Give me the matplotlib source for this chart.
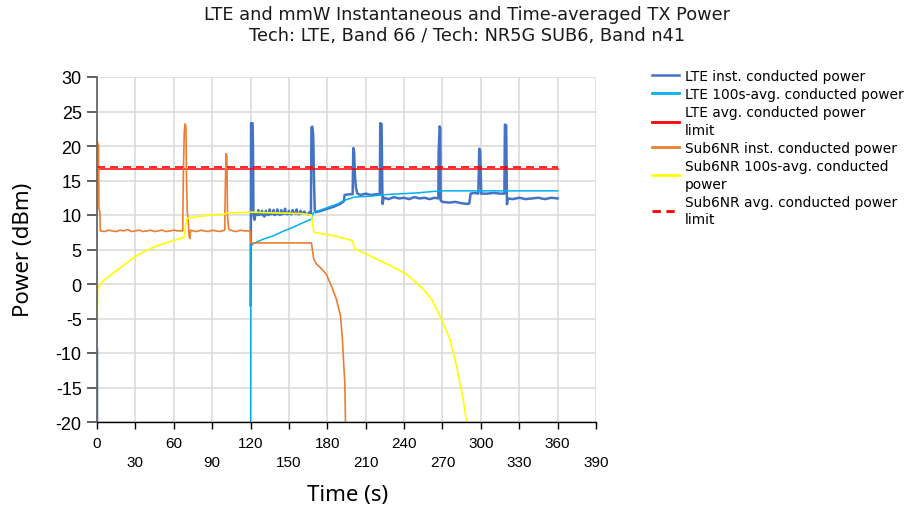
import numpy as np
import matplotlib
matplotlib.use('Agg')
import matplotlib.pyplot as plt
from matplotlib.lines import Line2D

nan = np.nan

# ── Data ──────────────────────────────────────────────────────────────────────
lte_inst_t = [0, 0.1, 0.2, 120.0, 120.2, 120.4, 121.6, 121.9, 122.3, 123.0,
              124, 125.5, 126, 126.5, 128, 129, 129.5, 131, 132, 132.5, 134, 135, 135.5,
              137, 138, 138.5, 140, 141, 141.5, 143, 144, 144.5, 146, 147, 147.5, 149,
              150, 150.5, 152, 153, 153.5, 155, 156, 156.5, 158, 159, 159.5, 161, 162,
              163, 165, 166, 167.2, 167.6, 168.3, 169.0, 169.6, 170.2, 171, 175, 180,
              185, 190, 193, 193.5, 197, 199.8, 200.3, 201.0, 201.5, 202.3, 203.5, 206,
              210, 214, 218, 221, 221.4, 222.4, 222.9, 223.2, 224, 228, 232, 236, 240,
              244, 248, 252, 256, 260, 264, 266.8, 267.0, 267.8, 268.3, 268.6, 270, 275,
              280, 285, 290, 291, 292, 295, 298, 298.8, 299.5, 300.3, 305, 310, 315,
              318.4, 318.8, 319.8, 320.4, 321, 325, 330, 335, 340, 345, 350, 355, 360]
lte_inst_p = [-9.4, -60, nan, -3.1, 5.5, 23.3, 23.3, 20.0, 10.0, 9.3,
              10.2, 10.0, 10.7, 10.0, 10.1, 10.6, 10.0, 9.8, 10.6, 10.1, 10.0, 10.8, 10.1,
              10.2, 10.7, 10.0, 10.1, 10.8, 10.2, 10.0, 10.7, 10.1, 10.2, 10.9, 10.2, 10.1,
              10.6, 10.2, 10.1, 10.7, 10.3, 10.2, 10.8, 10.2, 10.1, 10.6, 10.2, 10.3, 10.5,
              10.2, 10.1, 10.4, 10.2, 22.7, 22.8, 21.5, 15.0, 10.7, 10.4, 10.6, 10.9,
              11.2, 11.6, 12.0, 12.9, 13.0, 13.0, 19.7, 19.0, 16.0, 14.0, 13.1, 12.9,
              13.1, 12.9, 13.0, 13.0, 23.3, 23.2, 15.0, 11.6, 12.5, 12.3, 12.6, 12.4, 12.5,
              12.3, 12.6, 12.4, 12.5, 12.3, 12.5, 12.4, 19.1, 22.85, 22.5, 12.1, 11.9, 11.8,
              11.9, 11.7, 11.6, 11.7, 13.1, 13.2, 13.1, 19.6, 19.2, 13.1, 13.1, 13.2, 13.1,
              13.1, 23.1, 23.0, 11.55, 12.4, 12.3, 12.5, 12.3, 12.4, 12.5, 12.3, 12.5, 12.4]

lte_avg_t = [120, 120.3, 122, 125, 130, 138, 145, 153, 160, 167.5, 169, 171, 176, 182,
             188, 193, 198, 201, 206, 215, 222, 230, 240, 250, 256, 268, 300, 360]
lte_avg_p = [-30, 5.5, 5.8, 6.1, 6.5, 7.0, 7.6, 8.2, 8.8, 9.4, 10.3, 10.5, 10.8, 11.2,
             11.6, 12.1, 12.4, 12.6, 12.65, 12.75, 12.9, 13.0, 13.1, 13.2, 13.3, 13.5, 13.5, 13.5]

nr_inst_t = [0, 1.2, 1.5, 2.2, 2.6, 6, 9, 12, 15, 18, 21, 24, 27, 30, 33, 36, 39, 42, 45,
             48, 51, 54, 57, 60, 63, 67.0, 67.5, 68.2, 68.8, 69.5, 70.0, 70.5, 71.2, 72.0,
             72.6, 73.2, 75, 78, 81, 84, 87, 90, 93, 96, 99.8, 100.2, 100.8, 101.5, 102.0,
             102.6, 103.2, 106, 109, 112, 115, 119.8, 120.2, 167.6, 169.4, 171.5, 175,
             179.3, 183.2, 187.1, 190.3, 191.8, 192.9, 193.7, 194.2, 194.5]
nr_inst_p = [20.8, 20.0, 11.0, 10.5, 7.7, 7.6, 7.8, 7.7, 7.6, 7.8, 7.7, 7.9, 7.6, 7.7, 7.8,
             7.6, 7.7, 7.8, 7.6, 7.7, 7.8, 7.6, 7.7, 7.8, 7.7, 7.7, 16.0, 22.0, 23.2, 22.8,
             15.0, 10.5, 9.5, 7.0, 6.6, 7.8, 7.7, 7.6, 7.8, 7.7, 7.6, 7.8, 7.7, 7.6, 7.8,
             13.0, 18.9, 18.5, 10.0, 8.5, 7.9, 7.7, 7.6, 7.8, 7.7, 7.7, 5.95, 5.95, 3.6,
             2.9, 2.3, 1.4, -0.3, -2.2, -4.6, -8.0, -11.9, -14.3, -20.0, -40.0]

nr_avg_t = [0, 0.4, 2, 4.7, 10, 15.1, 22, 30.8, 38, 46.4, 56, 68, 69.9, 72, 80, 90, 99,
            101.5, 110, 120, 140, 160, 167.6, 169.4, 185, 199.5, 201.5, 215.8, 230, 242,
            255, 262, 268, 275.8, 281, 286.2, 288.8, 289.5]
nr_avg_p = [-9.4, -0.75, -0.2, 0.46, 1.2, 1.9, 2.9, 4.1, 4.8, 5.5, 6.1, 6.76, 9.4, 9.6,
            9.8, 10.0, 10.1, 10.3, 10.35, 10.4, 10.3, 10.2, 10.0, 7.5, 7.0, 6.3, 5.1, 3.85,
            2.6, 1.4, -0.73, -2.4, -4.6, -8.0, -11.9, -16.7, -20.0, -25.0]

limit_t = [0, 360]
lte_limit = [16.6, 16.6]
nr_limit = [17.0, 17.0]

x_ticks = list(range(0, 391, 30))
y_ticks = list(range(-20, 31, 5))

labels = ['LTE inst. conducted power',
          'LTE 100s-avg. conducted power',
          'LTE avg. conducted power\nlimit',
          'Sub6NR inst. conducted power',
          'Sub6NR 100s-avg. conducted\npower',
          'Sub6NR avg. conducted power\nlimit']

# ── Colors ────────────────────────────────────────────────────────────────────
C_LTE = '#4472C4'
C_LTE_AVG = '#00B0F0'
C_RED = '#FF0000'
C_NR = '#ED7D31'
C_NR_AVG = '#FFFF00'
GRID = '#D9D9D9'

fig = plt.figure(figsize=(9.08, 5.10), dpi=100, facecolor='white')
ax = fig.add_axes([97 / 908, 1 - 423 / 510, 499 / 908, 345 / 510])

ax.plot(lte_inst_t, lte_inst_p, color=C_LTE, lw=1.8)
ax.plot(lte_avg_t, lte_avg_p, color=C_LTE_AVG, lw=1.1)
ax.plot(limit_t, lte_limit, color=C_RED, lw=1.1)
ax.plot(nr_inst_t, nr_inst_p, color=C_NR, lw=1.2)
ax.plot(nr_avg_t, nr_avg_p, color=C_NR_AVG, lw=1.2)
ax.plot(limit_t, nr_limit, color=C_RED, lw=1.2, dashes=(4.8, 3))

ax.set_xlim(0, 390)
ax.set_ylim(-20, 30)
ax.set_xticks(x_ticks)
ax.set_xticklabels([str(v) if v % 60 == 0 else '\n' + str(v) for v in x_ticks],
                   family='Liberation Sans', fontsize=11, linespacing=1.5)
ax.set_yticks(y_ticks)
ax.set_yticklabels([str(v) for v in y_ticks], family='Liberation Sans', fontsize=13)
ax.grid(True, color=GRID, lw=1.1)
ax.set_axisbelow(True)
for s in ('top', 'right'):
    ax.spines[s].set_visible(False)
ax.spines['left'].set_color('#666666')
ax.spines['left'].set_linewidth(1.3)
ax.spines['bottom'].set_color('black')
ax.spines['bottom'].set_linewidth(1.0)
ax.tick_params(axis='y', length=7, width=1.3, color='#555555', pad=4)
ax.tick_params(axis='x', length=5, width=1.0, color='black', pad=5)

# titles / axis labels
fig.text(467 / 908, 1 - 15 / 510, 'LTE and mmW Instantaneous and Time-averaged TX Power',
         ha='center', va='center', fontsize=12.8, color='#1a1a1a', family='DejaVu Sans')
fig.text(467 / 908, 1 - 36 / 510, 'Tech: LTE, Band 66 / Tech: NR5G SUB6, Band n41',
         ha='center', va='center', fontsize=12.8, color='#1a1a1a', family='DejaVu Sans')
fig.text(24 / 908, 1 - 250 / 510, 'Power (dBm)', rotation=90, ha='center', va='center',
         fontsize=16, family='Noto Sans', color='black')
fig.text(348 / 908, 1 - 496 / 510, 'Time (s)', ha='center', va='center',
         fontsize=16, family='Noto Sans', color='black')

# legend
handles = [Line2D([], [], color=C_LTE, lw=1.8),
           Line2D([], [], color=C_LTE_AVG, lw=2),
           Line2D([], [], color=C_RED, lw=2),
           Line2D([], [], color=C_NR, lw=2),
           Line2D([], [], color=C_NR_AVG, lw=2),
           Line2D([], [], color=C_RED, lw=2, dashes=(3, 2))]
leg = fig.legend(handles, labels, loc='upper left', bbox_to_anchor=(652 / 908, 1 - 70 / 510),
                 frameon=False, prop={'family': 'DejaVu Sans', 'size': 9.9},
                 handlelength=1.95, handletextpad=0.45, labelspacing=0.3,
                 borderpad=0, borderaxespad=0)
for t in leg.get_texts():
    t.set_linespacing(1.32)

fig.savefig('out.png', dpi=100, facecolor='white')
